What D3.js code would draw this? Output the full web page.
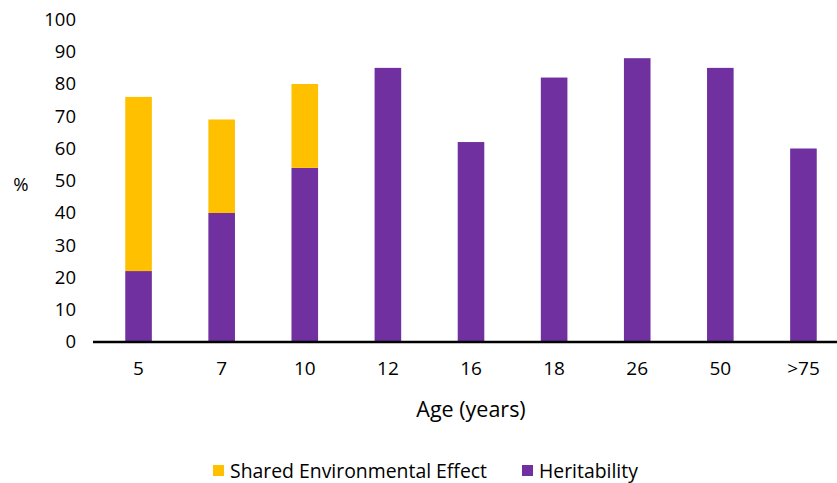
<!DOCTYPE html>
<html>
<head>
<meta charset="utf-8">
<script src="https://cdn.jsdelivr.net/npm/d3@7"></script>
<style>
  body { margin: 0; background: #fff; }
  text { font-family: "Open Sans", "Noto Sans", sans-serif; fill: #000; }
</style>
</head>
<body>
<div id="content"></div>
<script>
const ages = ["5", "7", "10", "12", "16", "18", "26", "50", ">75"];
const heritability = [22, 40, 54, 85, 62, 82, 88, 85, 60];
const sharedEnv = [54, 29, 26, 0, 0, 0, 0, 0, 0];
const yTicks = [0, 10, 20, 30, 40, 50, 60, 70, 80, 90, 100];
const seriesNames = ["Shared Environmental Effect", "Heritability"];
const seriesColors = ["#FFC000", "#7030A0"];

const W = 837, H = 483;

const rows = ages.map((a, i) => ({age: a, heritability: heritability[i], shared: sharedEnv[i]}));
const stacked = d3.stack().keys(["heritability", "shared"])(rows);

const x = d3.scaleBand()
    .domain(ages)
    .range([97, 845])
    .paddingInner(0.68)
    .paddingOuter(0.34);

const y = d3.scaleLinear()
    .domain([0, 100])
    .range([342, 19.5]);

const color = d3.scaleOrdinal()
    .domain(["shared", "heritability"])
    .range(seriesColors);

const svg = d3.select("#content")
    .append("svg")
    .attr("width", W)
    .attr("height", H);

// bars
svg.selectAll(".series")
    .data(stacked)
    .enter()
        .append("g")
        .attr("class", "series")
        .attr("fill", d => color(d.key))
    .selectAll("rect")
    .data(d => d)
    .enter()
        .append("rect")
        .attr("x", d => x(d.data.age))
        .attr("width", x.bandwidth())
        .attr("y", d => y(d[1]))
        .attr("height", d => y(d[0]) - y(d[1]));

// y axis (labels only)
const yAxis = svg.append("g")
    .attr("transform", "translate(76,0)")
    .call(d3.axisLeft(y).tickValues(yTicks).tickSize(0).tickPadding(0));
yAxis.select(".domain").remove();
yAxis.selectAll("text")
    .attr("font-size", 18.5)
    .attr("font-family", "Open Sans")
    .attr("fill", "#000");

// x axis
const xAxis = svg.append("g")
    .attr("transform", "translate(0,342)")
    .call(d3.axisBottom(x).tickSize(0).tickPadding(20));
xAxis.select(".domain").remove();
xAxis.selectAll("text")
    .attr("font-size", 19)
    .attr("font-family", "Open Sans")
    .attr("fill", "#000");

svg.append("line")
    .attr("x1", 93).attr("x2", 837)
    .attr("y1", 342).attr("y2", 342)
    .attr("stroke", "#000")
    .attr("stroke-width", 2.5);

// axis titles
svg.append("text")
    .attr("x", 471).attr("y", 417)
    .attr("text-anchor", "middle")
    .attr("font-size", 21.5)
    .text("Age (years)");

svg.append("text")
    .attr("x", 21).attr("y", 191)
    .attr("text-anchor", "middle")
    .attr("font-size", 18.5)
    .text("%");

// legend
const legendX = [213, 522];
const legend = svg.selectAll(".legend")
    .data(seriesNames)
    .enter()
        .append("g")
        .attr("class", "legend")
        .attr("transform", (d, i) => "translate(" + legendX[i] + ",465)");
legend.append("rect")
    .attr("width", 11).attr("height", 11)
    .attr("fill", (d, i) => seriesColors[i]);
legend.append("text")
    .attr("x", 17).attr("y", 12.5)
    .attr("font-size", 19.4)
    .text(d => d);
</script>
</body>
</html>
